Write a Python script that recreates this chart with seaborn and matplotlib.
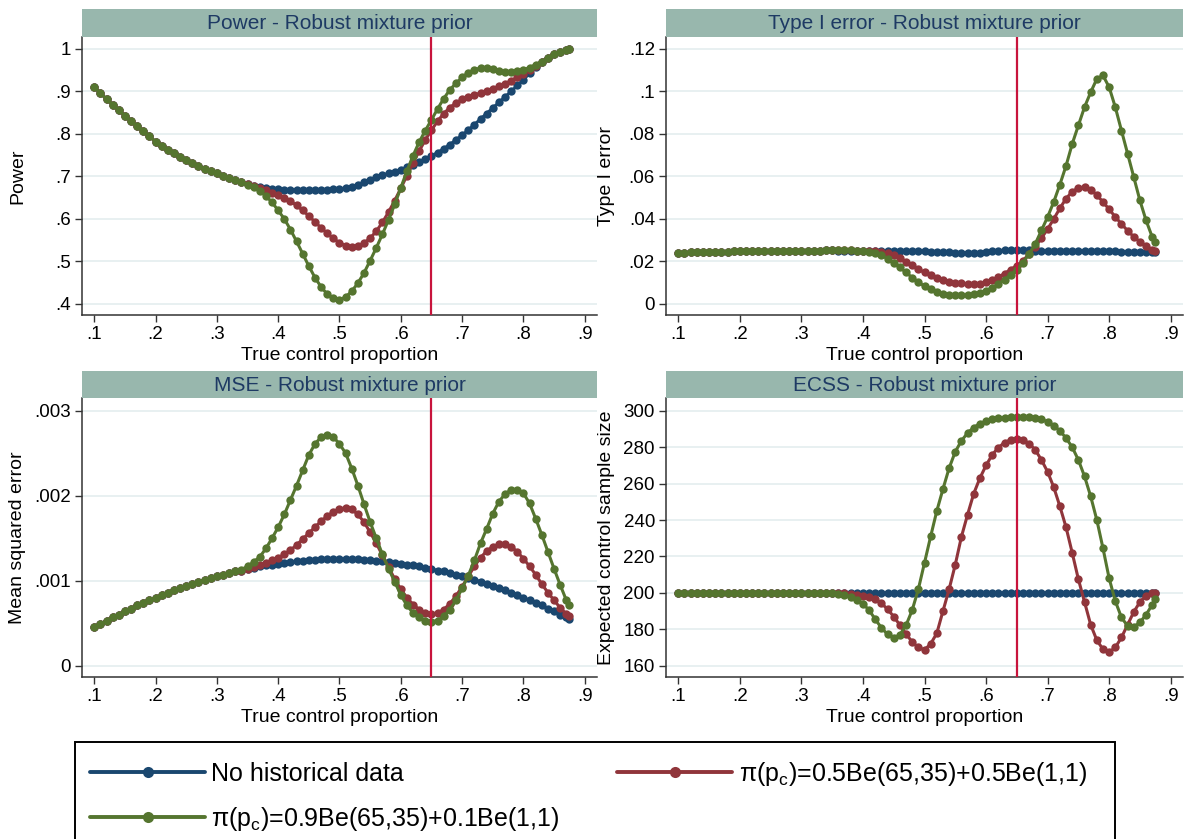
import numpy as np
import pandas as pd
import matplotlib
matplotlib.use("Agg")
import matplotlib.pyplot as plt
import seaborn as sns
from matplotlib.lines import Line2D
from matplotlib.patches import Rectangle

# ---------------- data ----------------
x_grid = np.round(np.append(np.arange(0.10, 0.875, 0.01), 0.875), 3)  # .10 ... .87, .875

series_names = ["No historical data",
                "π(p$_\\mathrm{c}$)=0.5Be(65,35)+0.5Be(1,1)",
                "π(p$_\\mathrm{c}$)=0.9Be(65,35)+0.1Be(1,1)"]
series_colors = ["#1a476f", "#90353b", "#55752f"]

x_ticks = [0.1, 0.2, 0.3, 0.4, 0.5, 0.6, 0.7, 0.8, 0.9]
x_tick_labels = [".1", ".2", ".3", ".4", ".5", ".6", ".7", ".8", ".9"]

# Power
power_head = [0.910, 0.896, 0.882, 0.869, 0.856, 0.843, 0.830, 0.818, 0.806, 0.794,
              0.782, 0.772, 0.763, 0.754, 0.746, 0.738, 0.731, 0.724, 0.718, 0.712,
              0.707, 0.702, 0.697, 0.692, 0.687]
power_tail = [0.970, 0.979, 0.987, 0.993, 0.998, 1.000]
power_nohist_mid = [0.682, 0.678, 0.675, 0.672, 0.671,
                    0.670, 0.669, 0.669, 0.669, 0.669, 0.669, 0.669, 0.669, 0.669, 0.670,
                    0.670, 0.672, 0.675, 0.680, 0.686, 0.692, 0.698, 0.703, 0.707, 0.711,
                    0.716, 0.721, 0.727, 0.734, 0.741, 0.748, 0.756, 0.765, 0.775, 0.786,
                    0.797, 0.809, 0.822, 0.835, 0.848, 0.861, 0.874, 0.887, 0.900, 0.914,
                    0.927, 0.943, 0.958]
power_mix05_mid = [0.682, 0.677, 0.672, 0.667, 0.662,
                   0.656, 0.650, 0.642, 0.632, 0.620, 0.607, 0.593, 0.579, 0.566, 0.554,
                   0.544, 0.537, 0.534, 0.536, 0.543, 0.555, 0.571, 0.592, 0.616, 0.643,
                   0.672, 0.702, 0.731, 0.760, 0.786, 0.809, 0.830, 0.848, 0.862, 0.873,
                   0.881, 0.887, 0.892, 0.896, 0.901, 0.906, 0.912, 0.918, 0.925, 0.933,
                   0.941, 0.950, 0.959]
power_mix09_mid = [0.681, 0.674, 0.665, 0.654, 0.639,
                   0.620, 0.600, 0.575, 0.547, 0.518, 0.489, 0.462, 0.440, 0.423, 0.413,
                   0.410, 0.416, 0.430, 0.449, 0.473, 0.502, 0.532, 0.564, 0.598, 0.634,
                   0.673, 0.713, 0.749, 0.781, 0.808, 0.833, 0.859, 0.883, 0.904, 0.919,
                   0.933, 0.944, 0.951, 0.955, 0.955, 0.953, 0.949, 0.946, 0.945, 0.947,
                   0.951, 0.956, 0.963]

# Type I error
t1_head = [0.0242, 0.0242, 0.0243, 0.0243, 0.0244, 0.0244, 0.0245, 0.0246, 0.0246, 0.0247,
           0.0247, 0.0248, 0.0248, 0.0248, 0.0248, 0.0248, 0.0248, 0.0248, 0.0248, 0.0248,
           0.0248, 0.0249, 0.0250, 0.0251, 0.0252, 0.0253]
t1_nohist_rest = [0.0249, 0.0248, 0.0248, 0.0247,
                  0.0247, 0.0247, 0.0247, 0.0247, 0.0247, 0.0247, 0.0247, 0.0248, 0.0248, 0.0248,
                  0.0247, 0.0246, 0.0245, 0.0244, 0.0243, 0.0242, 0.0241, 0.0241, 0.0241, 0.0242,
                  0.0244, 0.0247, 0.0250, 0.0253, 0.0255, 0.0255, 0.0254, 0.0252, 0.0250, 0.0249,
                  0.0248, 0.0248, 0.0248, 0.0248, 0.0248, 0.0248, 0.0248, 0.0249, 0.0249, 0.0248,
                  0.0248, 0.0247, 0.0246, 0.0245, 0.0244, 0.0244, 0.0243, 0.0243, 0.0243]
t1_mix05_rest = [0.0254, 0.0253, 0.0252, 0.0250,
                 0.0249, 0.0248, 0.0247, 0.0245, 0.0240, 0.0231, 0.0217, 0.0199, 0.0181, 0.0164,
                 0.0148, 0.0134, 0.0122, 0.0112, 0.0105, 0.0100, 0.0097, 0.0095, 0.0094, 0.0096,
                 0.0102, 0.0112, 0.0126, 0.0143, 0.0162, 0.0180, 0.0204, 0.0235, 0.0270, 0.0310,
                 0.0352, 0.0400, 0.0450, 0.0496, 0.0528, 0.0546, 0.0550, 0.0538, 0.0512, 0.0480,
                 0.0445, 0.0410, 0.0376, 0.0345, 0.0316, 0.0292, 0.0271, 0.0256, 0.0250]
t1_mix09_rest = [0.0255, 0.0254, 0.0252, 0.0250,
                 0.0247, 0.0244, 0.0238, 0.0228, 0.0213, 0.0194, 0.0172, 0.0148, 0.0124, 0.0102,
                 0.0084, 0.0068, 0.0057, 0.0049, 0.0044, 0.0041, 0.0040, 0.0041, 0.0045, 0.0052,
                 0.0062, 0.0076, 0.0094, 0.0115, 0.0138, 0.0162, 0.0195, 0.0235, 0.0283, 0.0346,
                 0.0409, 0.0480, 0.0562, 0.0650, 0.0753, 0.0840, 0.0926, 0.0996, 0.1059, 0.1075,
                 0.1020, 0.0926, 0.0816, 0.0707, 0.0597, 0.0487, 0.0393, 0.0315, 0.0291]

# Mean squared error
mse_head = [0.00045, 0.00049, 0.00053, 0.00057, 0.00060, 0.00064, 0.00067, 0.00071, 0.00074, 0.00077,
            0.00080, 0.00083, 0.00086, 0.00089, 0.00091, 0.00094, 0.00096, 0.00099, 0.00101, 0.00103,
            0.00105, 0.00107, 0.00109, 0.00111]
mse_nohist_rest = [0.00112, 0.00114, 0.00115, 0.00117, 0.00118, 0.00119,
                   0.00120, 0.00121, 0.00122, 0.00123, 0.00123, 0.00124, 0.00124, 0.00125, 0.00125, 0.00125,
                   0.00125, 0.00125, 0.00125, 0.00125, 0.00124, 0.00124, 0.00123, 0.00123, 0.00122, 0.00121,
                   0.00120, 0.00119, 0.00118, 0.00117, 0.00115, 0.00114, 0.00112, 0.00111, 0.00109, 0.00107,
                   0.00105, 0.00103, 0.00101, 0.00099, 0.00096, 0.00094, 0.00091, 0.00089, 0.00086, 0.00083,
                   0.00080, 0.00077, 0.00074, 0.00071, 0.00067, 0.00064, 0.00060, 0.00057, 0.00055]
mse_mix05_rest = [0.00112, 0.00114, 0.00116, 0.00118, 0.00121, 0.00124,
                  0.00127, 0.00131, 0.00136, 0.00142, 0.00149, 0.00156, 0.00163, 0.00170, 0.00176, 0.00181,
                  0.00184, 0.00186, 0.00184, 0.00178, 0.00169, 0.00157, 0.00144, 0.00130, 0.00116, 0.00102,
                  0.00090, 0.00080, 0.00072, 0.00066, 0.00062, 0.00061, 0.00062, 0.00066, 0.00073, 0.00082,
                  0.00093, 0.00105, 0.00117, 0.00127, 0.00135, 0.00140, 0.00143, 0.00143, 0.00140, 0.00134,
                  0.00126, 0.00117, 0.00107, 0.00096, 0.00086, 0.00077, 0.00068, 0.00061, 0.00058]
mse_mix09_rest = [0.00113, 0.00117, 0.00122, 0.00128, 0.00138, 0.00150,
                  0.00163, 0.00178, 0.00195, 0.00212, 0.00230, 0.00248, 0.00261, 0.00269, 0.00272, 0.00269,
                  0.00261, 0.00250, 0.00232, 0.00212, 0.00190, 0.00169, 0.00150, 0.00131, 0.00114, 0.00099,
                  0.00083, 0.00071, 0.00062, 0.00057, 0.00053, 0.00052, 0.00053, 0.00058, 0.00066, 0.00077,
                  0.00091, 0.00106, 0.00124, 0.00144, 0.00161, 0.00179, 0.00193, 0.00202, 0.00207, 0.00207,
                  0.00203, 0.00191, 0.00173, 0.00154, 0.00134, 0.00114, 0.00095, 0.00077, 0.00071]

# Expected control sample size
ecss_head = [200.0] * 24
ecss_nohist_rest = [200.0] * 55
ecss_mix05_rest = [200.0, 200.0, 199.9, 199.7, 199.4, 199.0,
                   198.5, 197.8, 196.5, 194.3, 191.0, 187.0, 182.3, 177.5, 173.0, 170.0,
                   168.7, 172.0, 177.8, 190.0, 202.0, 215.5, 230.8, 243.0, 254.5, 263.0,
                   270.0, 275.8, 279.8, 282.5, 284.0, 284.5, 284.0, 282.0, 278.5, 273.0,
                   266.5, 258.0, 247.5, 236.0, 222.0, 207.5, 195.0, 182.5, 174.0, 169.0,
                   167.5, 170.0, 175.5, 182.5, 189.5, 195.0, 198.5, 199.8, 200.0]
ecss_mix09_rest = [200.0, 199.8, 199.3, 198.7, 197.7, 196.3,
                   194.0, 190.5, 185.5, 180.8, 177.2, 175.2, 177.0, 182.2, 190.5, 202.0,
                   216.5, 231.0, 245.0, 257.0, 268.5, 277.5, 283.5, 287.8, 290.8, 292.9,
                   294.3, 295.2, 295.8, 296.2, 296.5, 296.6, 296.6, 296.4, 296.0, 295.2,
                   294.0, 291.8, 289.0, 285.0, 280.0, 273.0, 264.0, 253.0, 240.0, 224.5,
                   208.0, 195.5, 186.5, 181.8, 181.2, 183.8, 188.0, 193.5, 196.5]

power_ticks = [0.4, 0.5, 0.6, 0.7, 0.8, 0.9, 1.0]
power_tick_labels = [".4", ".5", ".6", ".7", ".8", ".9", "1"]
t1_ticks = [0.0, 0.02, 0.04, 0.06, 0.08, 0.10, 0.12]
t1_tick_labels = ["0", ".02", ".04", ".06", ".08", ".1", ".12"]
mse_ticks = [0.0, 0.001, 0.002, 0.003]
mse_tick_labels = ["0", ".001", ".002", ".003"]
ecss_ticks = [160, 180, 200, 220, 240, 260, 280, 300]
ecss_tick_labels = ["160", "180", "200", "220", "240", "260", "280", "300"]

# ---------------- style ----------------
sns.set_theme(style="white")
plt.rcParams['font.family'] = ['Liberation Sans', 'DejaVu Sans']
plt.rcParams['mathtext.fontset'] = 'custom'
plt.rcParams['mathtext.rm'] = 'Liberation Sans'
plt.rcParams['mathtext.it'] = 'Liberation Sans:italic'
plt.rcParams['text.color'] = 'black'
plt.rcParams['axes.labelcolor'] = 'black'

W, H = 1186, 839
fig = plt.figure(figsize=(W / 100, H / 100), dpi=100)
fig.patch.set_facecolor("white")

STRIP_BG = "#98b7ad"
STRIP_FG = "#1e3a64"
AXIS_C = "#333333"
GRID_C = "#e8f0f1"
REF_C = "#c8143c"

panels = [
    dict(title="Power - Robust mixture prior", ylabel="Power",
         series=[power_head + power_nohist_mid + power_tail,
                 power_head + power_mix05_mid + power_tail,
                 power_head + power_mix09_mid + power_tail],
         ylim=(0.374, 1.028), yt=power_ticks, ytl=power_tick_labels,
         left=82, right=597, top=37, bottom=315, strip_top=9, ylab_x=26),
    dict(title="Type I error - Robust mixture prior", ylabel="Type I error",
         series=[t1_head + t1_nohist_rest, t1_head + t1_mix05_rest, t1_head + t1_mix09_rest],
         ylim=(-0.0052, 0.1256), yt=t1_ticks, ytl=t1_tick_labels,
         left=666, right=1183, top=37, bottom=315, strip_top=9, ylab_x=615),
    dict(title="MSE - Robust mixture prior", ylabel="Mean squared error",
         series=[mse_head + mse_nohist_rest, mse_head + mse_mix05_rest, mse_head + mse_mix09_rest],
         ylim=(-0.000133, 0.00315), yt=mse_ticks, ytl=mse_tick_labels,
         left=82, right=597, top=398, bottom=677, strip_top=371, ylab_x=26),
    dict(title="ECSS - Robust mixture prior", ylabel="Expected control sample size",
         series=[ecss_head + ecss_nohist_rest, ecss_head + ecss_mix05_rest, ecss_head + ecss_mix09_rest],
         ylim=(153.8, 307.0), yt=ecss_ticks, ytl=ecss_tick_labels,
         left=666, right=1183, top=398, bottom=677, strip_top=371, ylab_x=615),
]

for p in panels:
    width = p["right"] - p["left"]
    height = p["bottom"] - p["top"]
    ax = fig.add_axes([p["left"] / W, 1 - p["bottom"] / H, width / W, height / H])
    df = pd.DataFrame({
        "x": np.tile(x_grid, 3),
        "y": np.concatenate([np.asarray(s, dtype=float) for s in p["series"]]),
        "series": np.repeat(series_names, len(x_grid)),
    })
    sns.lineplot(data=df, x="x", y="y", hue="series", hue_order=series_names,
                 palette=series_colors, marker="o", markersize=6.0, markeredgewidth=0,
                 linewidth=2.2, estimator=None, sort=False, legend=False, ax=ax)
    ax.axvline(0.65, color=REF_C, lw=1.6, zorder=10)
    ax.set_xlim(0.08, 0.92)
    ax.set_ylim(*p["ylim"])
    ax.set_xticks(x_ticks)
    ax.set_xticklabels(x_tick_labels)
    ax.set_yticks(p["yt"])
    ax.set_yticklabels(p["ytl"])
    ax.grid(axis="y", color=GRID_C, lw=1.4)
    ax.grid(axis="x", visible=False)
    ax.set_axisbelow(True)
    for s in ["top", "right"]:
        ax.spines[s].set_visible(False)
    for s in ["left", "bottom"]:
        ax.spines[s].set_color(AXIS_C)
        ax.spines[s].set_linewidth(1.1)
    ax.tick_params(axis="both", direction="out", length=5, width=1.0, color=AXIS_C,
                   labelsize=13.5, labelcolor="black", pad=3, left=True, bottom=True)
    ax.set_xlabel("True control proportion", fontsize=14, color="black")
    ax.set_ylabel(p["ylabel"], fontsize=14, color="black")
    ax.xaxis.set_label_coords(0.5, -32 / height)
    ax.yaxis.set_label_coords((p["ylab_x"] - p["left"]) / width, 0.5)
    ax.set_facecolor("white")

    # title strip
    sax = fig.add_axes([p["left"] / W, 1 - p["top"] / H, width / W, (p["top"] - p["strip_top"]) / H])
    sax.set_facecolor(STRIP_BG)
    sax.set_xticks([])
    sax.set_yticks([])
    for s in sax.spines.values():
        s.set_visible(False)
    sax.text(0.5, 0.48, p["title"], ha="center", va="center", fontsize=15,
             color=STRIP_FG, transform=sax.transAxes)

# legend box
fig.patches.append(Rectangle((75 / W, -0.02), (1115 - 75) / W, 0.02 + (839 - 742) / H,
                             transform=fig.transFigure, facecolor="white",
                             edgecolor="black", lw=1.4, zorder=0))
handles = [Line2D([], [], color=c, lw=2.8, marker="o", markersize=8, markeredgewidth=0)
           for c in series_colors]
order = [0, 2, 1]  # column-major fill -> row 1: first two entries, row 2: third
leg = fig.legend([handles[i] for i in order], [series_names[i] for i in order], ncol=2,
                 loc="upper left", bbox_to_anchor=(90 / W, 1 - 760 / H), frameon=False, fontsize=18,
                 handlelength=4.6, handletextpad=0.25, columnspacing=2.3,
                 labelspacing=0.75, borderpad=0, borderaxespad=0, labelcolor="black")

fig.savefig("out.png", dpi=100)
